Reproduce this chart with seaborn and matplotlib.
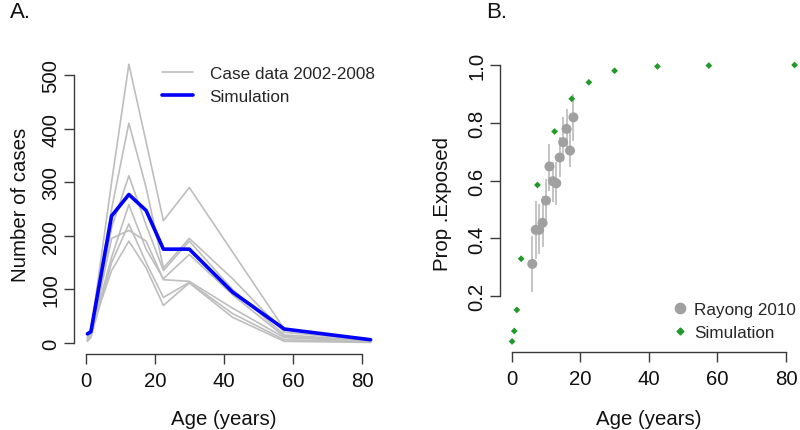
import numpy as np
import pandas as pd
import matplotlib
matplotlib.use("Agg")
import matplotlib.pyplot as plt
from matplotlib.lines import Line2D
import seaborn as sns

# ---------------- data ----------------
ages_a = [0.5, 1.5, 7.5, 12.5, 17.5, 22.5, 30, 42.5, 57.5, 82.5]
case_years = ["2002", "2003", "2004", "2005", "2006", "2007", "2008"]
cases_2002 = [5, 20, 300, 520, 375, 228, 290, 170, 26, 7]
cases_2003 = [8, 25, 250, 410, 290, 140, 195, 120, 20, 5]
cases_2004 = [4, 15, 215, 312, 220, 135, 190, 100, 15, 4]
cases_2005 = [10, 18, 160, 258, 175, 120, 165, 90, 12, 4]
cases_2006 = [6, 12, 195, 210, 190, 118, 115, 65, 10, 3]
cases_2007 = [3, 10, 150, 222, 150, 85, 113, 55, 6, 2]
cases_2008 = [12, 22, 135, 190, 140, 70, 112, 48, 3, 1]
sim_cases = [17, 21, 237, 277, 247, 175, 175, 95, 26, 6]

rayong_age = [6, 7, 8, 9, 10, 11, 12, 13, 14, 15, 16, 17, 18]
rayong_prop = [0.312, 0.43, 0.43, 0.454, 0.531, 0.649, 0.598, 0.591, 0.68, 0.733, 0.779, 0.704, 0.819]
rayong_lo = [0.214, 0.329, 0.346, 0.369, 0.456, 0.565, 0.525, 0.517, 0.612, 0.669, 0.704, 0.646, 0.738]
rayong_hi = [0.407, 0.531, 0.519, 0.548, 0.606, 0.727, 0.663, 0.663, 0.750, 0.819, 0.848, 0.773, 0.900]

sim_age_b = [0.1, 0.75, 1.5, 2.75, 7.5, 12.5, 17.5, 22.5, 30, 42.5, 57.5, 82.5]
sim_prop_b = [0.044, 0.08, 0.153, 0.33, 0.585, 0.77, 0.883, 0.94, 0.98, 0.995, 0.998, 1.0]

x_ticks = [0, 20, 40, 60, 80]
y_ticks_a = [0, 100, 200, 300, 400, 500]
y_ticks_b = [0.2, 0.4, 0.6, 0.8, 1.0]
y_ticklabels_b = ["0.2", "0.4", "0.6", "0.8", "1.0"]

# ---------------- style ----------------
sns.set_style("ticks")
plt.rcParams["font.family"] = ["Liberation Sans", "DejaVu Sans"]

W, H = 800, 431
fig = plt.figure(figsize=(W / 100, H / 100), dpi=100)

def px_axes(left, top, right, bottom):
    return fig.add_axes([left / W, 1 - bottom / H, (right - left) / W, (bottom - top) / H])

A_box = (74.3, 54.1, 382.0, 355.1)
B_box = (500.4, 55.0, 805.9, 353.4)
axA = px_axes(*A_box)
axB = px_axes(*B_box)

GRAY = "#BEBEBE"
AXC = "#3a3a3a"
TXT = "#111111"
FS = 14.7

# --- Panel A ---
all_cases = [cases_2002, cases_2003, cases_2004, cases_2005, cases_2006, cases_2007, cases_2008]
df_cases = pd.DataFrame({
    "age": np.tile(ages_a, len(case_years)),
    "cases": np.concatenate(all_cases),
    "year": np.repeat(case_years, len(ages_a)),
})
sns.lineplot(data=df_cases, x="age", y="cases", units="year", estimator=None,
             color=GRAY, lw=1.2, ax=axA, legend=False, sort=False)
df_sim = pd.DataFrame({"age": ages_a, "cases": sim_cases})
sns.lineplot(data=df_sim, x="age", y="cases", color="#0000FF", lw=2.6, ax=axA,
             legend=False, sort=False)
axA.set_xlim(-3.3, 85.8)
axA.set_ylim(-20.8, 540.8)
axA.set_yticks(y_ticks_a)
axA.set_yticklabels([str(v) for v in y_ticks_a])

def legend_anchor(box, x_px, y_px):
    l, t, r, b = box
    return ((x_px - l) / (r - l), (b - y_px) / (b - t))

handlesA = [Line2D([], [], color=GRAY, lw=1.2), Line2D([], [], color="#0000FF", lw=2.6)]
axA.legend(handlesA, ["Case data 2002-2008", "Simulation"], loc="upper left",
           bbox_to_anchor=legend_anchor(A_box, 161.7, 67.0),
           frameon=False, fontsize=12.3, handlelength=1.85, handletextpad=0.95,
           borderpad=0, borderaxespad=0, labelspacing=0.45)

# --- Panel B ---
axB.vlines(rayong_age, rayong_lo, rayong_hi, color="#C4C4C4", lw=1.4, zorder=1)
sns.scatterplot(x=rayong_age, y=rayong_prop, color="#A0A0A0", s=52, edgecolor="none",
                ax=axB, zorder=2, legend=False)
sns.scatterplot(x=sim_age_b, y=sim_prop_b, color="#22992A", marker="D", s=12,
                edgecolor="none", ax=axB, zorder=3, legend=False)
axB.set_xlim(-3.3, 85.8)
axB.set_ylim(0.006, 1.038)
axB.set_yticks(y_ticks_b)
axB.set_yticklabels(y_ticklabels_b)

handlesB = [Line2D([], [], color="#A0A0A0", marker="o", ms=7.4, lw=0),
            Line2D([], [], color="#22992A", marker="D", ms=3.5, lw=0)]
axB.legend(handlesB, ["Rayong 2010", "Simulation"], loc="upper left",
           bbox_to_anchor=legend_anchor(B_box, 671.7, 303.0),
           frameon=False, fontsize=12.3, handlelength=1.0, handletextpad=0.3,
           borderpad=0, borderaxespad=0, labelspacing=0.45)

for ax, box, ylab, yb, ylab_x, xlab_cx in [
        (axA, A_box, "Number of cases", (0, 500), 20, (85.7 + 362) / 2),
        (axB, B_box, "Prop .Exposed", (0.2, 1.0), 442, (511.7 + 786) / 2)]:
    l, t, r, b = box
    ax.set_xticks(x_ticks)
    ax.set_xticklabels([str(v) for v in x_ticks])
    for s in ["top", "right"]:
        ax.spines[s].set_visible(False)
    for s in ["left", "bottom"]:
        ax.spines[s].set_color(AXC)
        ax.spines[s].set_linewidth(1.0)
    ax.spines["bottom"].set_bounds(0, 80)
    ax.spines["left"].set_bounds(*yb)
    ax.tick_params(axis="both", colors=AXC, labelcolor=TXT, labelsize=FS,
                   length=7.0, width=1.0)
    ax.tick_params(axis="x", pad=5)
    ax.tick_params(axis="y", pad=6.0)
    plt.setp(ax.get_yticklabels(), rotation=90, ha="center", va="baseline",
             rotation_mode="anchor")
    ax.set_xlabel("Age (years)", fontsize=FS, color=TXT, va="center")
    ax.set_ylabel(ylab, fontsize=FS, color=TXT, va="center", rotation=90)
    ax.xaxis.set_label_coords((xlab_cx - l) / (r - l), (b - 420) / (b - t))
    ax.yaxis.set_label_coords((ylab_x - l) / (r - l), 0.5)
    ax.set_facecolor("white")

fig.text(10 / W, 1 - 13 / H, "A.", fontsize=16, va="center", ha="left",
         family=["Liberation Sans Narrow", "Liberation Sans", "DejaVu Sans"], color=TXT)
fig.text(486 / W, 1 - 13 / H, "B.", fontsize=16, va="center", ha="left",
         family=["Liberation Sans Narrow", "Liberation Sans", "DejaVu Sans"], color=TXT)

fig.savefig("out.png", dpi=100, facecolor="white")
